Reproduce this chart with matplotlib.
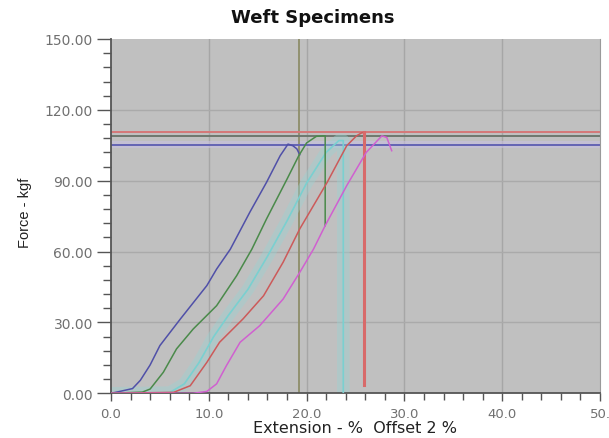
import matplotlib
matplotlib.use("Agg")
import matplotlib.pyplot as plt
from matplotlib.ticker import MultipleLocator, FixedLocator

# Specimen curves (extension %, force kgf)
blue_x = [0.0, 0.8, 2.2, 3.0, 4.0, 5.0, 7.1, 9.8, 10.8, 12.2, 14.2, 15.9, 17.3, 18.1, 18.6, 19.0, 19.3]
blue_y = [0.0, 0.7, 2.0, 5.5, 12.0, 20.2, 31.5, 45.6, 52.6, 61.0, 76.7, 89.3, 100.6, 105.5, 104.8, 103.5, 101.0]

green_x = [0.0, 3.2, 4.0, 5.35, 6.7, 8.4, 10.8, 12.85, 14.4, 15.9, 18.0, 19.2, 20.0, 21.0, 21.7, 21.9, 21.9]
green_y = [0.0, 0.5, 1.8, 8.9, 18.8, 27.2, 37.1, 49.8, 61.0, 73.8, 90.7, 100.6, 106.0, 108.8, 109.0, 109.0, 71.0]

cyan_x = [0.0, 6.0, 7.5, 9.0, 10.5, 12.0, 14.0, 16.0, 18.0, 20.0, 22.0, 23.3, 23.75, 23.75]
cyan_y = [0.0, 0.3, 4.0, 13.0, 24.0, 33.0, 44.0, 58.0, 73.0, 89.0, 102.0, 107.0, 107.0, 0.0]

red_x = [0.0, 6.4, 8.1, 9.8, 11.1, 13.5, 15.6, 17.6, 19.3, 22.1, 24.1, 25.1, 25.6, 25.9, 25.9]
red_y = [0.0, 0.4, 3.2, 13.1, 21.6, 31.5, 41.3, 55.5, 69.6, 89.3, 104.8, 109.0, 110.2, 110.5, 3.5]

mag_x = [0.0, 8.4, 9.8, 10.8, 11.8, 13.2, 15.2, 17.6, 19.3, 20.7, 21.9, 24.1, 26.1, 27.7, 28.2, 28.7]
mag_y = [0.0, 0.0, 0.8, 4.0, 11.7, 21.6, 28.6, 39.9, 51.2, 61.0, 71.0, 87.9, 102.0, 109.0, 108.3, 102.7]

# Reference lines
h_levels = [110.5, 109.0, 105.3]
h_colors = ["#d57878", "#6e786e", "#6464b4"]
v_olive_x = 19.2

x_ticks = [0, 10, 20, 30, 40, 50]
x_labels = ["0.0", "10.0", "20.0", "30.0", "40.0", "50."]
y_ticks = [0, 30, 60, 90, 120, 150]
y_labels = ["0.00", "30.00", "60.00", "90.00", "120.00", "150.00"]

fig = plt.figure(figsize=(6.09, 4.39), dpi=100)
ax = fig.add_axes([111 / 609, 1 - 394.3 / 439, 489 / 609, 354.3 / 439])
ax.set_facecolor("#c0c0c0")
ax.set_xlim(0, 50)
ax.set_ylim(0, 150)

for v in [10, 20, 30, 40]:
    ax.axvline(v, color="#a6a6a6", lw=1.0, zorder=1)
for h in [30, 60, 90, 120]:
    ax.axhline(h, color="#aaaaaa", lw=1.0, zorder=1)

ax.axvline(v_olive_x, color="#8e8e6a", lw=1.3, zorder=2)
ax.axhspan(104.0, 107.0, color="#c8c0e0", alpha=0.6, lw=0, zorder=1)
for lvl, c in zip(h_levels, h_colors):
    ax.axhline(lvl, color=c, lw=1.4, zorder=2)

# cyan curve (blurred band in the reference)
ax.plot(cyan_x, cyan_y, color="#9ad4d4", lw=9.0, alpha=0.4, zorder=2, solid_capstyle="butt")
ax.plot(cyan_x, cyan_y, color="#7ad0d0", lw=1.2, zorder=3)
ax.plot(blue_x, blue_y, color="#5050a8", lw=1.1, zorder=4)
ax.plot(green_x, green_y, color="#4a8a4a", lw=1.1, zorder=4)
ax.plot(red_x, red_y, color="#cc5a5a", lw=1.1, zorder=4)
ax.plot(red_x[-2:], red_y[-2:], color="#d86a6a", lw=2.2, zorder=4)
ax.plot(mag_x, mag_y, color="#d060d0", lw=1.1, zorder=4)

ax.xaxis.set_major_locator(FixedLocator(x_ticks))
ax.set_xticklabels(x_labels)
ax.yaxis.set_major_locator(FixedLocator(y_ticks))
ax.set_yticklabels(y_labels)
ax.xaxis.set_minor_locator(MultipleLocator(2))
ax.yaxis.set_minor_locator(MultipleLocator(6))
ax.tick_params(axis="x", which="major", length=6, width=1, color="#555555",
               labelcolor="#707070", labelsize=9.5, direction="out", pad=4)
ax.tick_params(axis="x", which="minor", length=5, width=1, color="#555555", direction="out")
ax.tick_params(axis="y", which="major", length=10, width=1, color="#555555",
               labelcolor="#707070", labelsize=10, direction="out", pad=3)
ax.tick_params(axis="y", which="minor", length=6, width=1, color="#555555", direction="out")

ax.spines["top"].set_visible(False)
ax.spines["right"].set_color("#9a9a9a")
ax.spines["right"].set_linewidth(0.8)
for s in ["left", "bottom"]:
    ax.spines[s].set_color("#555555")
    ax.spines[s].set_linewidth(1.3)

fig.text(313 / 609, 1 - 18 / 439, "Weft Specimens", fontsize=13, fontweight="bold",
         ha="center", va="center", family="DejaVu Sans", color="#111111")
fig.text(355 / 609, 1 - 429 / 439, "Extension - %  Offset 2 %", fontsize=11.5,
         ha="center", va="center", family="DejaVu Sans", color="#222222")
fig.text(25 / 609, 1 - 213 / 439, "Force - kgf", fontsize=10.5, rotation=90,
         ha="center", va="center", family="Liberation Sans", color="#222222")

fig.savefig("out.png", dpi=100)
